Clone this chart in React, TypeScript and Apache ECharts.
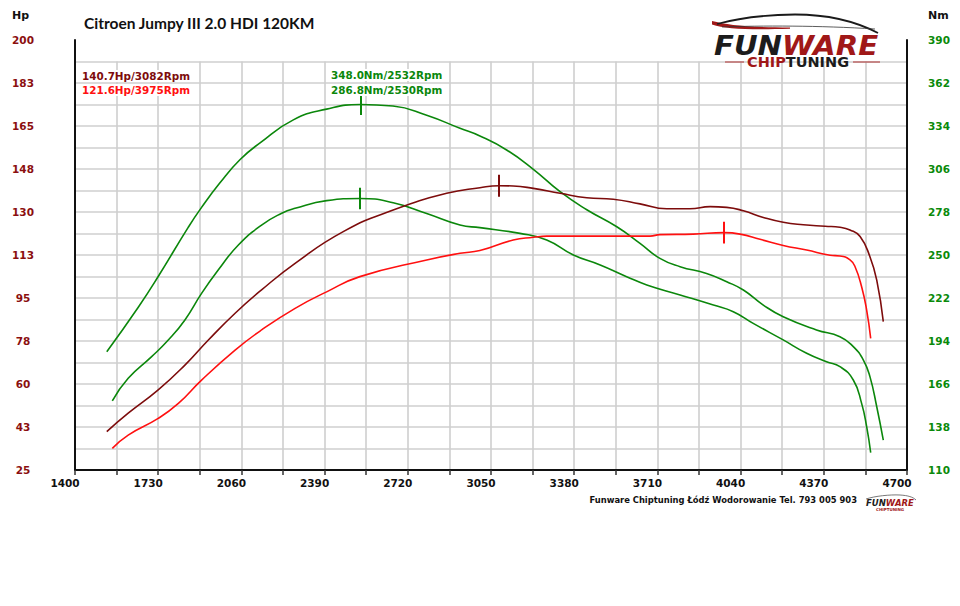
import React, { useEffect, useRef } from 'react';
import * as echarts from 'echarts';

// ---- data (rpm / values) ----
const RPM_TUNED_TQ = [1526, 1651, 1730, 1849, 1902, 1975, 2054, 2134, 2266, 2398, 2532, 2661, 2795, 2927, 3006, 3112, 3218, 3324, 3430, 3549, 3641, 3720, 3800, 3905, 3985, 4051, 4130, 4209, 4341, 4434, 4487, 4527, 4553, 4580, 4606];
const NM_TUNED = [187, 216, 236, 268, 281, 297, 312, 323, 338, 345, 348, 347, 341, 332.5, 327.5, 318.4, 305.8, 291.2, 279.5, 268.4, 257.6, 247.8, 242.4, 238, 232.6, 227.2, 217.4, 209.8, 201.2, 196.8, 190.3, 181.6, 170.8, 151.2, 129.5];

const RPM_STOCK_TQ = [1548, 1611, 1704, 1770, 1836, 1902, 1968, 2048, 2140, 2220, 2273, 2398, 2530, 2662, 2795, 2927, 3006, 3165, 3271, 3377, 3483, 3588, 3668, 3800, 3932, 4011, 4090, 4209, 4302, 4381, 4434, 4487, 4520, 4540, 4556];
const NM_STOCK = [155, 169.7, 183.8, 194.6, 207.7, 225, 240.2, 256.5, 269.5, 277.2, 280.4, 285.4, 286.8, 284, 277, 269.5, 267.8, 264.1, 259.8, 250, 243.5, 235.9, 230.5, 224, 217.4, 213.1, 205.5, 194.7, 186, 180.5, 177.3, 168.6, 153.4, 138.2, 121.3];

const RPM_TUNED_HP = [1526, 1611, 1730, 1836, 1929, 2035, 2140, 2273, 2464, 2662, 2874, 3006, 3082, 3138, 3218, 3324, 3430, 3535, 3641, 3747, 3839, 3919, 3985, 4051, 4130, 4209, 4289, 4375, 4434, 4474, 4514, 4553, 4580, 4606];
const HP_TUNED = [40.6, 48.1, 57.6, 67.7, 77.9, 88.8, 98.3, 109.1, 122, 130.8, 137.6, 139.9, 140.7, 140.6, 139.6, 137.6, 135.8, 135.2, 133.3, 131.3, 131.3, 132.2, 131.9, 130.5, 127.8, 125.8, 124.8, 124.2, 123.8, 122.7, 120, 111.8, 102.3, 85.4];

const RPM_STOCK_HP = [1548, 1611, 1730, 1810, 1902, 2035, 2140, 2273, 2398, 2530, 2795, 2927, 3006, 3138, 3218, 3271, 3403, 3588, 3681, 3720, 3852, 3975, 4038, 4117, 4209, 4302, 4395, 4434, 4474, 4494, 4520, 4540, 4556];
const HP_STOCK = [33.8, 39.2, 46, 52.1, 61.6, 73.8, 82, 90.8, 97.5, 103.7, 110.5, 113.2, 114.3, 118.6, 119.7, 120.2, 120.2, 120.2, 120.2, 120.8, 121, 121.6, 121, 118.9, 116.4, 114.5, 112.4, 112.1, 110.5, 107.7, 99.6, 90.1, 78.6];

// peaks: [rpm, value]
const PEAK_TUNED_HP = [3082, 140.7];
const PEAK_STOCK_HP = [3975, 121.6];
const PEAK_TUNED_TQ = [2532, 348.0];
const PEAK_STOCK_TQ = [2530, 286.8];

const TITLE = 'Citroen Jumpy III 2.0 HDI 120KM';
const FOOTER = 'Funware Chiptuning Łódź Wodorowanie Tel. 793 005 903';
const ANNOTATIONS = ['140.7Hp/3082Rpm', '121.6Hp/3975Rpm', '348.0Nm/2532Rpm', '286.8Nm/2530Rpm'];

const DARK_RED = '#7d0c0c';
const RED = '#ff1010';
const GREEN = '#0b870b';
const GRID_GRAY = '#cfcfcf';
const LOGO_RED = '#a01818';

const zip = (xs: number[], ys: number[]) => xs.map((x, i) => [x, ys[i]]);

const ROOF_D = 'M 717 24 C 735 19, 760 15, 795 14.5 C 830 14.5, 855 21, 878 33';
const SWOOSH_D = 'M 712 21 C 728 25, 748 27.5, 790 27.5 L 790 28.8 C 748 30, 726 29, 712 24.5 Z';
const LOWER_D = 'M 722 27 C 760 25.5, 820 25.5, 875 29';
const SMALL_D = 'M 866 499 C 875 496, 890 494.5, 900 495 C 908 495.5, 913 497, 916 500';

echarts.graphic.registerShape('roof', echarts.graphic.extendPath(ROOF_D, {}) as any);
echarts.graphic.registerShape('swoosh', echarts.graphic.extendPath(SWOOSH_D, {}) as any);
echarts.graphic.registerShape('lowerline', echarts.graphic.extendPath(LOWER_D, {}) as any);
echarts.graphic.registerShape('smallroof', echarts.graphic.extendPath(SMALL_D, {}) as any);

const AX_FONT = 'DejaVu Sans';

function peakMark(p: number[], half: number, color: string) {
  return {
    silent: true,
    symbol: ['none', 'none'],
    label: { show: false },
    lineStyle: { color, width: 2, type: 'solid' },
    data: [[{ coord: [p[0], p[1] - half] }, { coord: [p[0], p[1] + half] }]],
  };
}

function lineSeries(xs: number[], ys: number[], yAxisIndex: number, color: string, peak: number[], half: number) {
  return {
    type: 'line',
    xAxisIndex: 0,
    yAxisIndex,
    data: zip(xs, ys),
    showSymbol: false,
    symbol: 'none',
    smooth: 0.5,
    lineStyle: { color, width: 1.6 },
    markLine: peakMark(peak, half, color),
    z: 3,
  };
}

export default function App() {
  const ref = useRef<HTMLDivElement>(null);
  useEffect(() => {
    if (!ref.current) return;
    const chart = echarts.init(ref.current, null, { renderer: 'svg' });
    const txt = (text: string, x: number, y: number, fill: string, size: number, extra: any = {}) => ({
      type: 'text',
      x,
      y,
      z: 10,
      style: {
        text,
        fill,
        fontSize: size,
        fontWeight: 'bold',
        fontFamily: AX_FONT,
        align: 'left',
        verticalAlign: 'middle',
        ...extra,
      },
    });
    chart.setOption({
      animation: false,
      backgroundColor: '#fff',
      grid: [
        { left: 75, right: 53, top: 40, bottom: 136 },
        { left: 75, right: 53, top: 61.5, bottom: 136 },
      ],
      xAxis: [
        {
          type: 'value',
          gridIndex: 0,
          min: 1400,
          max: 4700,
          interval: 330,
          axisLine: { show: true, lineStyle: { color: '#111', width: 2 } },
          axisTick: { show: true, length: 5, lineStyle: { color: '#333', width: 1.5 } },
          minorTick: { show: true, splitNumber: 2, length: 5, lineStyle: { color: '#333', width: 1.5 } },
          axisLabel: {
            color: '#111',
            fontFamily: AX_FONT,
            fontWeight: 'bold',
            fontSize: 10.5,
            margin: 7,
            padding: [0, 20, 0, 0],
            formatter: (v: number) => String(Math.round(v)),
          },
          splitLine: { show: false },
        },
        {
          type: 'value',
          gridIndex: 1,
          min: 1400,
          max: 4700,
          interval: 165,
          axisLine: { show: false },
          axisTick: { show: false },
          axisLabel: { show: false },
          splitLine: { show: true, lineStyle: { color: GRID_GRAY, width: 1.6 } },
        },
      ],
      yAxis: [
        {
          type: 'value',
          gridIndex: 0,
          position: 'left',
          min: 25,
          max: 200,
          interval: 17.5,
          axisLine: { show: true, lineStyle: { color: '#111', width: 2 } },
          axisTick: { show: false },
          splitLine: { show: false },
          axisLabel: {
            color: '#8b0f0f',
            fontFamily: AX_FONT,
            fontWeight: 'bold',
            fontSize: 10.5,
            align: 'center',
            margin: 52,
            formatter: (v: number) => String(Math.round(v)),
          },
        },
        {
          type: 'value',
          gridIndex: 0,
          position: 'right',
          min: 110,
          max: 390,
          interval: 28,
          axisLine: { show: true, lineStyle: { color: '#111', width: 2 } },
          axisTick: { show: false },
          splitLine: { show: false },
          axisLabel: {
            color: '#0a8a0a',
            fontFamily: AX_FONT,
            fontWeight: 'bold',
            fontSize: 10.5,
            align: 'center',
            margin: 32,
          },
        },
        {
          type: 'value',
          gridIndex: 1,
          min: 25,
          max: 191.25,
          interval: 8.75,
          axisLine: { show: false },
          axisTick: { show: false },
          axisLabel: { show: false },
          splitLine: { show: true, lineStyle: { color: GRID_GRAY, width: 1.6 } },
        },
      ],
      series: [
        lineSeries(RPM_TUNED_TQ, NM_TUNED, 1, GREEN, PEAK_TUNED_TQ, 6.8),
        lineSeries(RPM_STOCK_TQ, NM_STOCK, 1, GREEN, PEAK_STOCK_TQ, 7),
        lineSeries(RPM_TUNED_HP, HP_TUNED, 0, DARK_RED, PEAK_TUNED_HP, 4.5),
        lineSeries(RPM_STOCK_HP, HP_STOCK, 0, RED, PEAK_STOCK_HP, 4.4),
      ],
      graphic: [
        txt('Hp', 12, 15, '#111', 11),
        txt('Nm', 928, 15, '#111', 11),
        txt(TITLE, 84, 23, '#111', 15.5, { fontFamily: 'Lato' }),
        txt(ANNOTATIONS[0], 81, 76, DARK_RED, 10.4, { backgroundColor: '#fff', padding: [1, 1, 1, 1] }),
        txt(ANNOTATIONS[1], 81, 90, RED, 10.4, { backgroundColor: '#fff', padding: [1, 1, 1, 1] }),
        txt(ANNOTATIONS[2], 330, 75, GREEN, 10.4, { backgroundColor: '#fff', padding: [1, 1, 1, 1] }),
        txt(ANNOTATIONS[3], 330, 90, GREEN, 10.4, { backgroundColor: '#fff', padding: [1, 1, 1, 1] }),
        txt(FOOTER, 857, 500, '#111', 8.4, { align: 'right' }),
        // big logo
        { type: 'swoosh', z: 10, style: { fill: LOGO_RED, stroke: 'none' } },
        { type: 'roof', z: 10, style: { fill: 'none', stroke: '#1a1a1a', lineWidth: 1.8 } },
        { type: 'lowerline', z: 10, style: { fill: 'none', stroke: '#333', lineWidth: 0.8 } },
        {
          type: 'group', x: 714, y: 46, scaleX: 1.08, scaleY: 1, z: 10,
          children: [
            {
              type: 'text', x: 0, y: 0, z: 10,
              style: {
                text: '{a|FUN}{b|WARE}',
                verticalAlign: 'middle', align: 'left',
                rich: {
                  a: { fill: '#1c1c1c', fontSize: 27, fontWeight: 'bold', fontStyle: 'italic', fontFamily: 'DejaVu Sans' },
                  b: { fill: LOGO_RED, fontSize: 27, fontWeight: 'bold', fontStyle: 'italic', fontFamily: 'DejaVu Sans' },
                },
              },
            },
          ],
        },
        { type: 'line', z: 10, shape: { x1: 725, y1: 62, x2: 744, y2: 62 }, style: { stroke: '#b03030', lineWidth: 1 } },
        { type: 'line', z: 10, shape: { x1: 853, y1: 62, x2: 880, y2: 62 }, style: { stroke: '#b03030', lineWidth: 1 } },
        {
          type: 'text', x: 747, y: 62, z: 10,
          style: {
            text: '{a|CHIP}{b|TUNING}',
            verticalAlign: 'middle', align: 'left',
            rich: {
              a: { fill: LOGO_RED, fontSize: 14.5, fontWeight: 'bold', fontFamily: 'DejaVu Sans' },
              b: { fill: '#1c1c1c', fontSize: 14.5, fontWeight: 'bold', fontFamily: 'DejaVu Sans' },
            },
          },
        },
        // small logo
        { type: 'smallroof', z: 10, style: { fill: 'none', stroke: '#555', lineWidth: 0.8 } },
        {
          type: 'text', x: 866, y: 503, z: 10,
          style: {
            text: '{a|FUN}{b|WARE}',
            verticalAlign: 'middle', align: 'left',
            rich: {
              a: { fill: '#1c1c1c', fontSize: 8.5, fontWeight: 'bold', fontStyle: 'italic', fontFamily: 'DejaVu Sans' },
              b: { fill: LOGO_RED, fontSize: 8.5, fontWeight: 'bold', fontStyle: 'italic', fontFamily: 'DejaVu Sans' },
            },
          },
        },
        txt('CHIPTUNING', 876, 509, LOGO_RED, 4),
      ],
    });
    return () => chart.dispose();
  }, []);
  return <div ref={ref} style={{ position: 'fixed', left: 0, top: 0, width: 960, height: 606 }} />;
}
